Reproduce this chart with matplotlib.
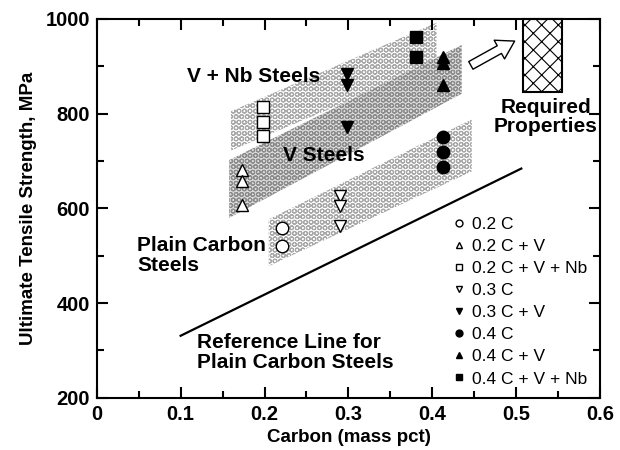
import numpy as np
import matplotlib.pyplot as plt
from matplotlib.patches import Polygon, Rectangle, FancyArrowPatch
from matplotlib.ticker import MultipleLocator

plt.rcParams['font.family'] = ['Liberation Sans', 'DejaVu Sans']

# carbon content and tensile strength of each series
series_names = ['0.2 C', '0.2 C + V', '0.2 C + V + Nb', '0.3 C', '0.3 C + V',
                '0.4 C', '0.4 C + V', '0.4 C + V + Nb']
series_carbon = [0.221, 0.173, 0.198, 0.290, 0.298, 0.413, 0.413, 0.381]
series_uts = [[558, 520],
              [682, 657, 608],
              [813, 783, 752],
              [627, 604, 562],
              [884, 861, 771],
              [750, 718, 688],
              [919, 907, 861],
              [962, 920]]
series_marker = ['o', '^', 's', 'v', 'v', 'o', '^', 's']
series_filled = [False, False, False, False, True, True, True, True]

# scatter bands: carbon at both ends, lower and upper strength at both ends
band_vnb_c = [0.160, 0.405]
band_vnb_lo = [722, 905]
band_vnb_hi = [805, 992]
band_v_c = [0.158, 0.435]
band_v_lo = [580, 842]
band_v_hi = [702, 945]
band_pc_c = [0.205, 0.447]
band_pc_lo = [478, 678]
band_pc_hi = [577, 788]

# reference line for plain carbon steels
ref_c = [0.100, 0.506]
ref_uts = [331, 684]

# required properties box
req_c = [0.508, 0.555]
req_uts = [845, 1000]

fig = plt.figure(figsize=(6.2, 4.5), dpi=100)
ax = fig.add_axes([0.156, 0.116, 0.812, 0.842])


def band(c, lo, hi, face, edge):
    pts = [(c[0], lo[0]), (c[1], lo[1]), (c[1], hi[1]), (c[0], hi[0])]
    p = Polygon(pts, closed=True, facecolor=face, edgecolor=edge,
                hatch='OOO', linewidth=0, zorder=1)
    ax.add_patch(p)


plt.rcParams['hatch.linewidth'] = 0.8
band(band_vnb_c, band_vnb_lo, band_vnb_hi, 'white', '#a8a8a8')
band(band_pc_c, band_pc_lo, band_pc_hi, 'white', '#a8a8a8')
band(band_v_c, band_v_lo, band_v_hi, '#dcdcdc', '#8c8c8c')

ax.plot(ref_c, ref_uts, color='black', lw=1.6, zorder=2)

box = Rectangle((req_c[0], req_uts[0]), req_c[1] - req_c[0], req_uts[1] - req_uts[0],
                facecolor='white', edgecolor='black', hatch='xx', lw=1.5, zorder=2,
                clip_on=False)
ax.add_patch(box)

arrow = FancyArrowPatch((0.443, 899), (0.501, 956),
                        arrowstyle='simple,head_width=1.1,head_length=0.9,tail_width=0.45',
                        mutation_scale=14, facecolor='white', edgecolor='black',
                        lw=1.0, zorder=3)
ax.add_patch(arrow)

for name, c, vals, m, filled in zip(series_names, series_carbon, series_uts,
                                    series_marker, series_filled):
    ax.plot([c] * len(vals), vals, linestyle='none', marker=m, markersize=9,
            markerfacecolor='black' if filled else 'white',
            markeredgecolor='black', markeredgewidth=1.0, label=name, zorder=4)

fs = 15
ax.text(0.107, 878, 'V + Nb Steels', fontsize=fs, fontweight='bold', va='center')
ax.text(0.271, 712, 'V Steels', fontsize=fs, fontweight='bold', va='center', ha='center')
ax.text(0.048, 500, 'Plain Carbon\nSteels', fontsize=fs, fontweight='bold',
        va='center', linespacing=1.05)
ax.text(0.120, 296, 'Reference Line for\nPlain Carbon Steels', fontsize=fs,
        fontweight='bold', va='center', linespacing=1.05)
ax.text(0.535, 793, 'Required\nProperties', fontsize=fs, fontweight='bold',
        va='center', ha='center', linespacing=1.05)

leg = ax.legend(loc='upper left', bbox_to_anchor=(0.707, 0.478), frameon=False,
                fontsize=12.5, markerscale=0.55, handlelength=0.7, handletextpad=0.4,
                labelspacing=0.4, borderpad=0, borderaxespad=0)

ax.set_xlim(0, 0.6)
ax.set_ylim(200, 1000)
ax.xaxis.set_major_locator(MultipleLocator(0.1))
ax.xaxis.set_minor_locator(MultipleLocator(0.05))
ax.yaxis.set_major_locator(MultipleLocator(200))
ax.yaxis.set_minor_locator(MultipleLocator(100))
ax.set_xticks(np.arange(0, 0.61, 0.1))
ax.set_xticklabels(['0', '0.1', '0.2', '0.3', '0.4', '0.5', '0.6'])
ax.tick_params(which='both', direction='in', top=True, right=True, width=1.5,
               labelsize=14.5, pad=5)
ax.tick_params(which='major', length=8)
ax.tick_params(which='minor', length=5)
for lab in ax.get_xticklabels() + ax.get_yticklabels():
    lab.set_fontweight('bold')
for s in ax.spines.values():
    s.set_linewidth(1.5)

ax.set_xlabel('Carbon (mass pct)', fontsize=13.5, fontweight='bold', labelpad=4)
ax.set_ylabel('Ultimate Tensile Strength, MPa', fontsize=13.5, fontweight='bold', labelpad=6)

plt.savefig('out.png', dpi=100)
